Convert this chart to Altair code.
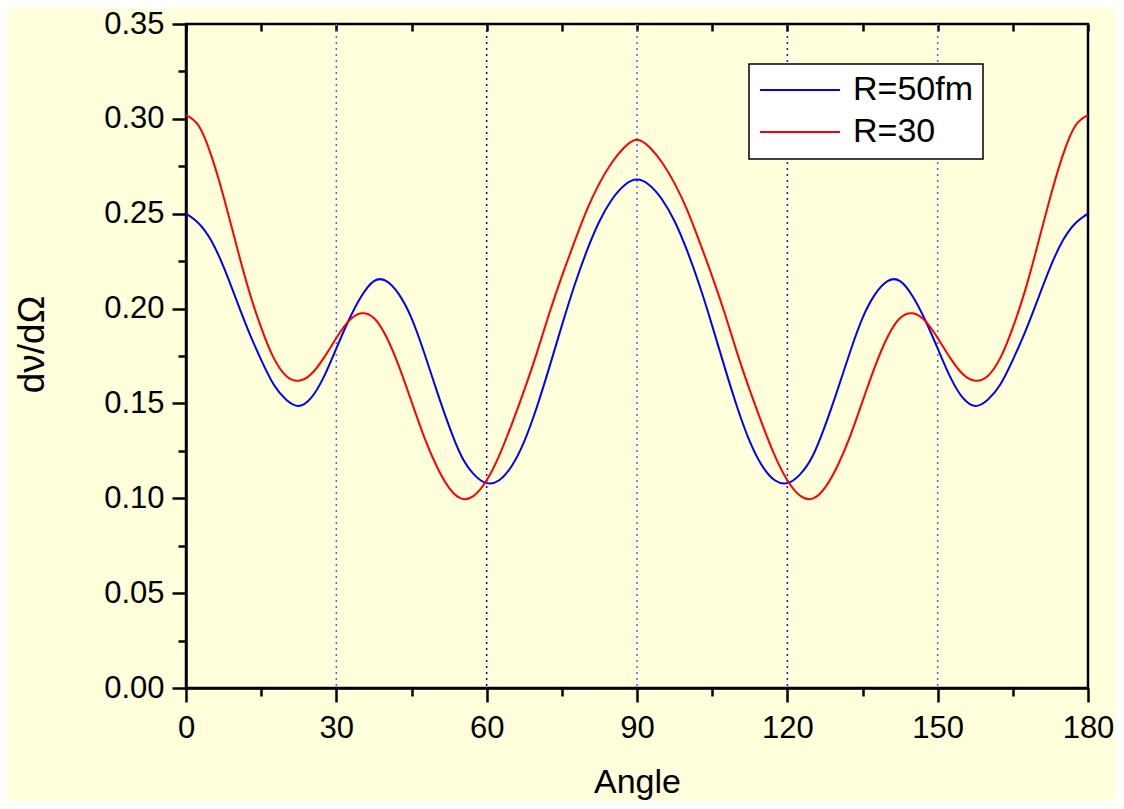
import altair as alt
import pandas as pd

# Scattering angle grid (degrees)
angles = [0, 2.5, 5, 7.5, 10, 12.5, 15, 17.5, 20, 22.5, 25, 27.5, 30, 32.5, 35, 37.5,
          40, 42.5, 45, 47.5, 50, 52.5, 55, 57.5, 60, 62.5, 65, 67.5, 70, 72.5, 75, 77.5,
          80, 82.5, 85, 87.5, 90, 92.5, 95, 97.5, 100, 102.5, 105, 107.5, 110, 112.5,
          115, 117.5, 120, 122.5, 125, 127.5, 130, 132.5, 135, 137.5, 140, 142.5, 145,
          147.5, 150, 152.5, 155, 157.5, 160, 162.5, 165, 167.5, 170, 172.5, 175, 177.5, 180]

# R=50fm (blue)
blue = [0.250, 0.245, 0.236, 0.222, 0.205, 0.188, 0.173, 0.160, 0.152, 0.1487, 0.153, 0.164,
        0.179, 0.194, 0.2065, 0.2145, 0.2145, 0.2075, 0.195, 0.177, 0.157, 0.138, 0.122, 0.1125,
        0.108, 0.1095, 0.117, 0.130, 0.148, 0.169, 0.191, 0.212, 0.2305, 0.246, 0.2575, 0.265,
        0.268,
        0.265, 0.2575, 0.246, 0.2305, 0.212, 0.191, 0.169, 0.148, 0.130, 0.117, 0.1095, 0.108,
        0.1125, 0.122, 0.138, 0.157, 0.177, 0.195, 0.2075, 0.2145, 0.2145, 0.2065, 0.194, 0.179,
        0.164, 0.153, 0.1487, 0.152, 0.160, 0.173, 0.188, 0.205, 0.222, 0.236, 0.245, 0.250]

# R=30 (red)
red = [0.302, 0.2965, 0.281, 0.259, 0.234, 0.210, 0.190, 0.174, 0.1645, 0.162, 0.1655, 0.174,
       0.1845, 0.1935, 0.1975, 0.195, 0.185, 0.1695, 0.151, 0.1325, 0.117, 0.1055, 0.0998, 0.1015,
       0.1095, 0.1225, 0.139, 0.157, 0.1765, 0.1975, 0.217, 0.235, 0.252, 0.266, 0.277, 0.285,
       0.289,
       0.285, 0.277, 0.266, 0.252, 0.235, 0.217, 0.1975, 0.1765, 0.157, 0.139, 0.1225, 0.1095,
       0.1015, 0.0998, 0.1055, 0.117, 0.1325, 0.151, 0.1695, 0.185, 0.195, 0.1975, 0.1935, 0.1845,
       0.174, 0.1655, 0.162, 0.1645, 0.174, 0.190, 0.210, 0.234, 0.259, 0.281, 0.2965, 0.302]

series_names = ["R=50fm", "R=30"]
series_colors = ["#0000FF", "#FF0000"]

vline_pos = [30, 60, 90, 120, 150]
vline_colors = ["#5a5aff", "#0000c8", "#5a5aff", "#1414e6", "#5a5aff"]

x_ticks = [0, 15, 30, 45, 60, 75, 90, 105, 120, 135, 150, 165, 180]
y_ticks = [0, 0.025, 0.05, 0.075, 0.1, 0.125, 0.15, 0.175, 0.2, 0.225, 0.25, 0.275,
           0.3, 0.325, 0.35]

FONT = "Liberation Sans"
BG = "#FFFFDC"

df = pd.DataFrame({
    "angle": angles + angles,
    "value": blue + red,
    "series": [series_names[0]] * len(angles) + [series_names[1]] * len(angles),
})
vdf = pd.DataFrame({"pos": vline_pos, "col": vline_colors})

xs = alt.Scale(domain=[0, 180], nice=False, zero=False)
ys = alt.Scale(domain=[0, 0.35], nice=False)

x_major = "datum.value % 30 === 0"
y_major = "round(datum.value * 1000) % 50 === 0"

rules = alt.Chart(vdf).mark_rule(strokeDash=[2, 4], strokeWidth=1.5).encode(
    x=alt.X("pos:Q", scale=xs, axis=None),
    stroke=alt.Stroke("col:N", scale=None, legend=None),
)

lines = alt.Chart(df).mark_line(strokeWidth=2, interpolate="natural").encode(
    x=alt.X(
        "angle:Q", scale=xs,
        axis=alt.Axis(
            orient="bottom", values=x_ticks, title="Angle",
            labelExpr=f"{x_major} ? datum.label : ''", labelFlush=False,
            tickSize={"condition": {"test": x_major, "value": 14}, "value": 8},
            labelPadding=11, titlePadding=22, titleFontSize=34,
        ),
    ),
    y=alt.Y(
        "value:Q", scale=ys,
        axis=alt.Axis(
            orient="left", values=y_ticks, title="dν/dΩ",
            labelExpr=f"{y_major} ? format(datum.value, '.2f') : ''", labelFlush=False,
            tickSize={"condition": {"test": y_major, "value": 14}, "value": 8},
            labelPadding=8, titlePadding=52, titleFontSize=37, titleY=320,
        ),
    ),
    color=alt.Color(
        "series:N",
        scale=alt.Scale(domain=series_names, range=series_colors),
        sort=series_names,
        legend=alt.Legend(
            title=None, orient="none", legendX=563, legendY=40,
            fillColor="white", strokeColor="black",
            symbolType="stroke", symbolSize=6400, symbolStrokeWidth=2,
            labelFontSize=34, labelFont=FONT, labelColor="black", labelOffset=12,
            padding=10, rowPadding=8, clipHeight=32, labelLimit=400,
        ),
    ),
)

top_axis = alt.Chart(df).mark_line(opacity=0).encode(
    x=alt.X(
        "angle:Q", scale=xs,
        axis=alt.Axis(
            orient="top", values=x_ticks, title=None, labels=False,
            domain=False, tickSize=7, offset=-7,
        ),
    ),
    y=alt.Y("value:Q", scale=ys, axis=None),
)

chart = alt.layer(rules, lines, top_axis).resolve_axis(
    x="independent", y="independent"
).properties(
    width=902, height=664,
    padding={"left": 178, "top": 16, "right": 28, "bottom": 113},
    autosize=alt.AutoSizeParams(type="none"),
    background=BG,
).configure_view(
    stroke="black", strokeWidth=2.5, fill=BG,
).configure_axis(
    grid=False,
    domainColor="black", domainWidth=2.5,
    tickColor="black", tickWidth=2.5,
    labelFont=FONT, labelFontSize=31, labelColor="black",
    titleFont=FONT, titleFontWeight="normal", titleColor="black",
).configure_legend(
    strokeWidth=1.5,
)

chart.save("out.html", embed_options={"renderer": "svg", "actions": False})
